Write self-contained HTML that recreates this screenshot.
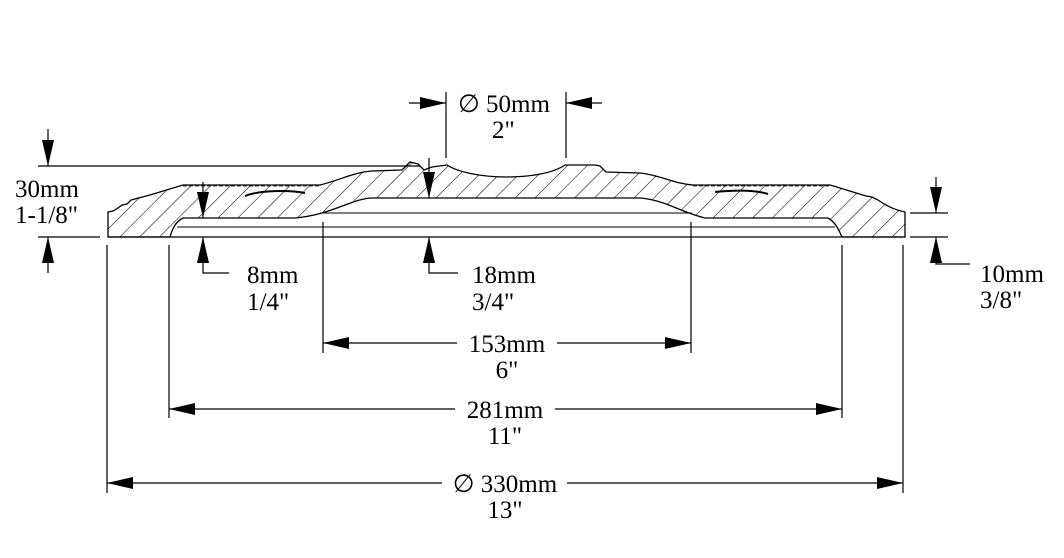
<!DOCTYPE html>
<html><head><meta charset="utf-8"><style>
html,body{margin:0;padding:0;background:#fff;}
svg{display:block;}
text{font-family:"Liberation Serif",serif;font-size:25px;fill:#000;}
</style></head><body>
<svg width="1064" height="558" viewBox="0 0 1064 558" xmlns="http://www.w3.org/2000/svg">
<defs>
<pattern id="h" width="14" height="14" patternUnits="userSpaceOnUse" patternTransform="rotate(45)">
<line x1="0" y1="0" x2="0" y2="14" stroke="#000" stroke-width="1.1"/>
</pattern>
<marker id="a" viewBox="0 0 26 12" refX="26" refY="6" markerWidth="26" markerHeight="12" markerUnits="userSpaceOnUse" orient="auto">
<path d="M0,0 L26,6 L0,12 Z" fill="#000"/>
</marker>
</defs>

<!-- profile -->
<path d="M108,237 L108,212 L113,211 L118,208 L122,205 L127,204 L131,200 L150,195 L183,185 L320,185 C340,180 355,172 372,171 L402,170 L410,162 L418,164 L424,170 L432,167 L447,165 C470,180 540,182 565,165 L595,165 L600,166 L606,172 L640,173 C660,175 675,184 693,185 L830,185 L840,188 L866,196 L872,197 L878,200 C885,205 895,210 905,212 L905,237 L842,237 C838,228 835,222 828,218 L705,218 C680,212 665,200 640,198 L370,198 C350,200 330,215 295,218 L183,218 C175,222 172,230 170,237 Z" fill="url(#h)" stroke="#000" stroke-width="1.3"/>
<path d="M245,196 C260,190 290,190 305,193" fill="none" stroke="#000" stroke-width="2"/>
<path d="M715,192 C735,190 755,190 768,194" fill="none" stroke="#000" stroke-width="2"/>
<line x1="183" y1="186" x2="320" y2="186" stroke="#000" stroke-width="0.8" stroke-dasharray="4,2"/>
<line x1="693" y1="186" x2="830" y2="186" stroke="#000" stroke-width="0.8" stroke-dasharray="4,2"/>
<!-- inner revolve lines -->
<line x1="320" y1="213" x2="692" y2="213" stroke="#000" stroke-width="1"/>
<line x1="177" y1="227" x2="835" y2="227" stroke="#000" stroke-width="1"/>
<line x1="108" y1="237" x2="905" y2="237" stroke="#000" stroke-width="1.2"/>

<g stroke="#000" stroke-width="1.2" fill="none">
<!-- 30mm -->
<line x1="38" y1="166" x2="420" y2="166"/>
<line x1="38" y1="237" x2="100" y2="237"/>
<line x1="48" y1="129" x2="48" y2="166" marker-end="url(#a)"/>
<line x1="48" y1="273" x2="48" y2="237" marker-end="url(#a)"/>
<!-- 50mm -->
<line x1="446" y1="92" x2="446" y2="158"/>
<line x1="566" y1="92" x2="566" y2="158"/>
<line x1="409" y1="103" x2="446" y2="103" marker-end="url(#a)"/>
<line x1="602" y1="103" x2="566" y2="103" marker-end="url(#a)"/>
<!-- 8mm -->
<line x1="203" y1="182" x2="203" y2="218" marker-end="url(#a)"/>
<polyline points="229,273 203,273 203,237" marker-end="url(#a)"/>
<!-- 18mm -->
<line x1="429" y1="158" x2="429" y2="198" marker-end="url(#a)"/>
<polyline points="458,273 429,273 429,237" marker-end="url(#a)"/>
<!-- 10mm -->
<line x1="910" y1="213" x2="948" y2="213"/>
<line x1="910" y1="237" x2="948" y2="237"/>
<line x1="936" y1="177" x2="936" y2="213" marker-end="url(#a)"/>
<polyline points="970,264 936,264 936,237" marker-end="url(#a)"/>
<!-- extension lines -->
<line x1="323" y1="222" x2="323" y2="353"/>
<line x1="691" y1="222" x2="691" y2="353"/>
<line x1="169" y1="245" x2="169" y2="418"/>
<line x1="842" y1="245" x2="842" y2="418"/>
<line x1="107" y1="245" x2="107" y2="493"/>
<line x1="903" y1="245" x2="903" y2="493"/>
<!-- 153 -->
<line x1="457" y1="343" x2="323" y2="343" marker-end="url(#a)"/>
<line x1="557" y1="343" x2="691" y2="343" marker-end="url(#a)"/>
<!-- 281 -->
<line x1="455" y1="409" x2="169" y2="409" marker-end="url(#a)"/>
<line x1="555" y1="409" x2="842" y2="409" marker-end="url(#a)"/>
<!-- 330 -->
<line x1="442" y1="483" x2="107" y2="483" marker-end="url(#a)"/>
<line x1="567" y1="483" x2="903" y2="483" marker-end="url(#a)"/>
</g>

<text x="458" y="112">∅ 50mm</text>
<text x="492" y="138">2"</text>
<text x="15" y="197">30mm</text>
<text x="15" y="223">1-1/8"</text>
<text x="247" y="283">8mm</text>
<text x="247" y="310">1/4"</text>
<text x="472" y="283">18mm</text>
<text x="472" y="310">3/4"</text>
<text x="980" y="282">10mm</text>
<text x="980" y="308">3/8"</text>
<text x="507" y="352" text-anchor="middle">153mm</text>
<text x="507" y="378" text-anchor="middle">6"</text>
<text x="505" y="418" text-anchor="middle">281mm</text>
<text x="505" y="444" text-anchor="middle">11"</text>
<text x="505" y="492" text-anchor="middle">∅ 330mm</text>
<text x="505" y="518" text-anchor="middle">13"</text>
</svg>
</body></html>
